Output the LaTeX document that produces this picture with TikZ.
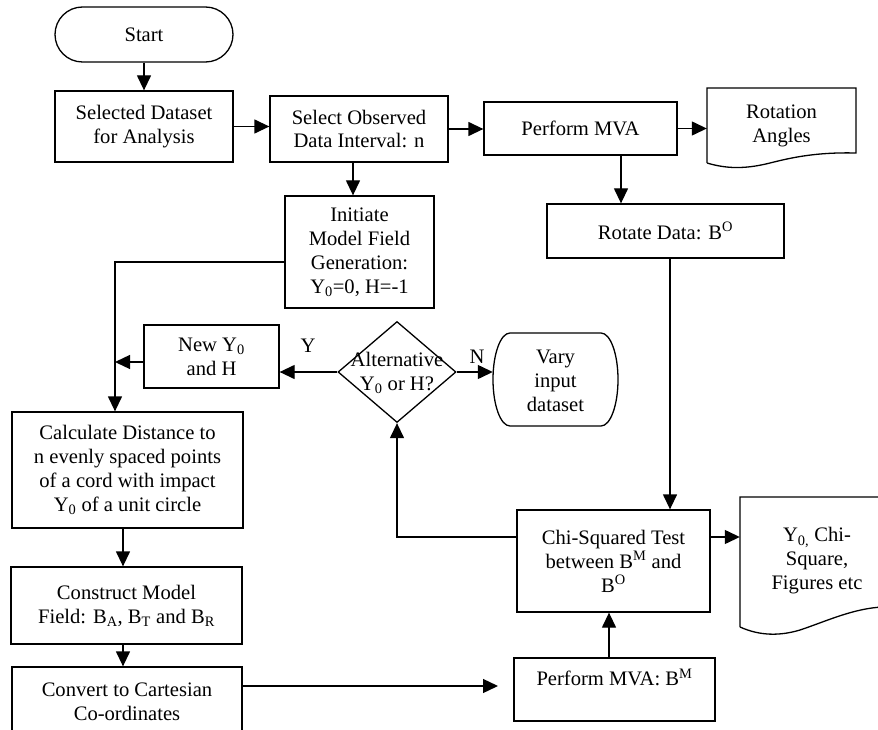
\documentclass[tikz,border=0pt]{standalone}
\usepackage{fontspec}
\setmainfont{Liberation Serif}
\usetikzlibrary{shapes.geometric,arrows.meta}
\begin{document}
\begin{tikzpicture}[x=1pt,y=-1pt,
  every node/.style={font=\fontsize{20.6}{24}\selectfont},
  box/.style={draw, line width=1.3pt, inner sep=0pt, align=center},
  txt/.style={inner sep=0pt, align=center},
  conn/.style={line width=1.3pt, -{Triangle[length=15pt,width=14pt]}},
  outline/.style={line width=1.3pt, line join=miter}]
\useasboundingbox (0,0) rectangle (878,730);
\clip (0,0) rectangle (878,730);

% boxes
\node[box, rounded corners=27.5pt, minimum width=178pt, minimum height=55pt] (start) at (144,34.5) {Start};
\node[box, minimum width=178pt, minimum height=71pt] (sel) at (144,126.5) {Selected Dataset\\for Analysis};
\node[box, minimum width=178pt, minimum height=66pt] (obs) at (359,129) {Select Observed\\Data Interval: n};
\node[box, minimum width=193pt, minimum height=53pt] (mva) at (580.5,128.5) {Perform MVA};
\node[txt, minimum width=149pt, minimum height=75pt] (rotang) at (781.5,125.5) {Rotation\\Angles};
\node[box, minimum width=237pt, minimum height=54pt] (rotd) at (665.5,231) {Rotate Data: B\textsuperscript{O}};
\node[box, minimum width=149pt, minimum height=112pt] (init) at (359.5,252) {Initiate\\Model Field\\Generation:\\Y\textsubscript{0}=0, H=-1};
\node[box, minimum width=135pt, minimum height=63pt] (newy) at (211.5,356.5) {New Y\textsubscript{0}\\and H};
\node[draw, diamond, line width=1.3pt, inner sep=0pt, minimum width=118pt, minimum height=101pt] (dec) at (397,372) {};
\node[txt] (dect) at (397,372.5) {Alternative\\Y\textsubscript{0} or H?};
\node[txt, minimum width=125pt, minimum height=93pt] (vary) at (555.5,381) {Vary\\input\\dataset};
\node[box, minimum width=231pt, minimum height=116pt] (calc) at (127.5,470) {Calculate Distance to\\n evenly spaced points\\of a cord with impact\\Y\textsubscript{0} of a unit circle};
\node[box, minimum width=231pt, minimum height=77pt] (cons) at (126.5,605.5) {Construct Model\\Field: B\textsubscript{A}, B\textsubscript{T} and B\textsubscript{R}};
\node[box, minimum width=230pt, minimum height=69pt] (conv) at (127,701.5) {Convert to Cartesian\\Co-ordinates};
\node[box, minimum width=193pt, minimum height=102pt] (chi) at (613.5,561) {Chi-Squared Test\\between B\textsuperscript{M} and\\B\textsuperscript{O}};
\node[box, minimum width=201pt, minimum height=63pt] (pmb) at (614.5,689.5) {Perform MVA: B\textsuperscript{M}\\\mbox{}};
\node[txt, minimum width=154pt, minimum height=128pt] (outdoc) at (817,561) {Y\textsubscript{0,} Chi-\\Square,\\Figures etc};

% document / terminator outlines
\draw[outline] (707,163) -- (707,88) -- (856,88) -- (856,153)
  .. controls (815,152) and (790,158) .. (770,163)
  .. controls (750,168) and (730,170) .. (707,163);
\draw[outline] (740,627) -- (740,497) -- (895,497) -- (895,607)
  .. controls (860,605) and (830,620) .. (800,630)
  .. controls (780,636) and (760,636) .. (740,627);
\draw[outline] (510,333) -- (601,333)
  .. controls (610.4,333) and (618,353.8) .. (618,379.5)
  .. controls (618,405.2) and (610.4,426) .. (601,426)
  -- (510,426)
  .. controls (500.6,426) and (493,405.2) .. (493,379.5)
  .. controls (493,353.8) and (500.6,333) .. (510,333) -- cycle;

% labels
\node[txt] (ly) at (308,346) {Y};
\node[txt] (ln) at (477,357) {N};

% connectors
\coordinate (j) at (115,362);
\coordinate (cend) at (498,686);
\draw[conn] (start.south) -- (sel.north);
\draw[conn] (sel.east) -- (sel.east -| obs.west);
\draw[conn] (obs.east) -- (obs.east -| mva.west);
\draw[conn] (mva.east) -- (mva.east -| rotang.west);
\draw[conn] (621,0 |- mva.south) -- (621,0 |- rotd.north);
\draw[conn] (353,0 |- obs.south) -- (353,0 |- init.north);
\draw[conn] (init.west |- 0,262) -- (115,262) -- (115,0 |- calc.north);
\draw[conn] (newy.west |- j) -- (j);
\draw[conn] (dec.west) -- (dec.west -| newy.east);
\draw[conn] (dec.east) -- (dec.east -| vary.west);
\draw[conn] (chi.west |- 0,537) -- (397,537) -- (dec.south);
\draw[conn] (670,0 |- rotd.south) -- (670,0 |- chi.north);
\draw[conn] (chi.east |- 0,537) -- (outdoc.west |- 0,537);
\draw[conn] (609,0 |- pmb.north) -- (609,0 |- chi.south);
\draw[conn] (conv.east |- cend) -- (cend);
\draw[conn] (123,0 |- calc.south) -- (123,0 |- cons.north);
\draw[conn] (123,0 |- cons.south) -- (123,0 |- conv.north);
\end{tikzpicture}
\end{document}
